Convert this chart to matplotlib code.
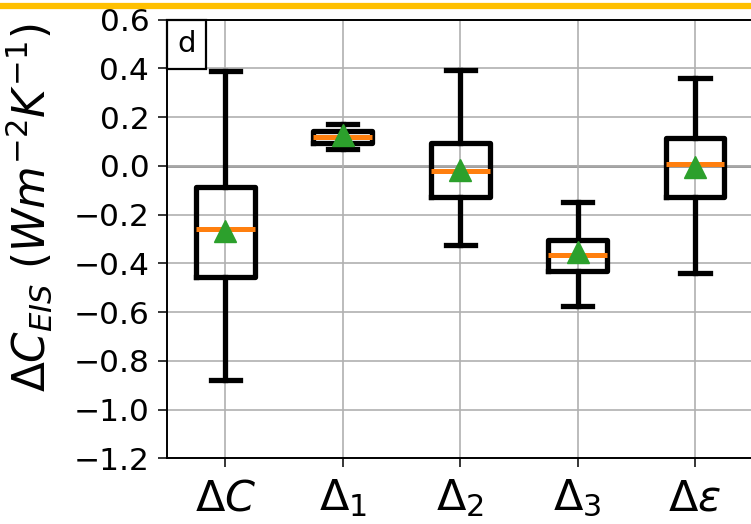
import numpy as np
import matplotlib.pyplot as plt
from matplotlib.lines import Line2D

# box statistics per term (W m-2 K-1)
terms = [r'$\Delta C$', r'$\Delta_1$', r'$\Delta_2$', r'$\Delta_3$', r'$\Delta\varepsilon$']
whis_lo = [-0.88, 0.07, -0.325, -0.574, -0.441]
q1 = [-0.455, 0.096, -0.126, -0.43, -0.126]
medians = [-0.26, 0.118, -0.019, -0.366, 0.007]
q3 = [-0.085, 0.144, 0.096, -0.304, 0.116]
whis_hi = [0.391, 0.173, 0.394, -0.149, 0.36]
means = [-0.266, 0.126, -0.016, -0.353, -0.003]

stats = []
for i in range(len(terms)):
    stats.append(dict(label=terms[i], whislo=whis_lo[i], q1=q1[i], med=medians[i],
                      q3=q3[i], whishi=whis_hi[i], mean=means[i], fliers=[]))

fig = plt.figure(figsize=(7.51, 5.24), dpi=100)
ax = fig.add_axes([0.222, 0.1254, 0.7815, 0.837])

ax.grid(True, color='#b0b0b0', linewidth=1.2, zorder=0)
ax.axhline(0, color='#808080', linewidth=1.8, zorder=1)

ax.bxp(stats, positions=np.arange(1, len(terms) + 1), widths=0.5, showmeans=True,
       boxprops=dict(color='k', linewidth=3.8),
       whiskerprops=dict(color='k', linewidth=3.8),
       capprops=dict(color='k', linewidth=3.8),
       medianprops=dict(color='#ff7f0e', linewidth=3.6),
       meanprops=dict(marker='^', markerfacecolor='#2ca02c', markeredgecolor='#2ca02c',
                      markersize=16))

ax.set_xlim(0.5, 5.5)
ax.set_ylim(-1.2, 0.6)
ax.set_yticks(np.arange(-1.2, 0.61, 0.2))
ax.tick_params(axis='y', labelsize=22.5, length=6.5, width=1.1, pad=6)
ax.tick_params(axis='x', labelsize=31, length=6.5, width=1.1, pad=7)
for s in ax.spines.values():
    s.set_linewidth(1.4)

ax.set_ylabel(r'$\Delta C_{EIS}$ $(Wm^{-2}K^{-1})$', fontsize=31.5)
ax.yaxis.set_label_coords(-0.19, 0.57)

ax.annotate('d', xy=(0, 1), xycoords='axes fraction', xytext=(7.5, -7.5),
            textcoords='offset points', ha='left', va='top', fontsize=21,
            bbox=dict(boxstyle='square,pad=0.36', facecolor='white', edgecolor='k',
                      linewidth=1.6), zorder=5)

# gold rule across the top
fig.add_artist(Line2D([0, 1], [1 - 6 / 524, 1 - 6 / 524], transform=fig.transFigure,
                      color='#ffc000', linewidth=4.5))

fig.savefig('out.png', dpi=100)
